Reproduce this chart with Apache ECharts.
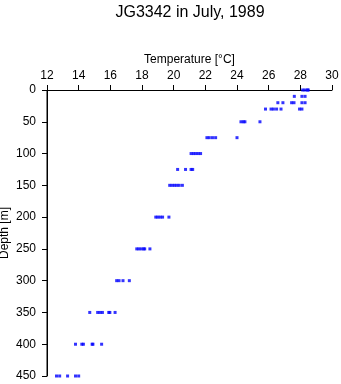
<!DOCTYPE html>
<html>
<head>
<meta charset="utf-8">
<script src="https://cdn.jsdelivr.net/npm/echarts@6/dist/echarts.min.js"></script>
<style>html,body{margin:0;padding:0;background:#fff;}#c{width:341px;height:384px;}</style>
</head>
<body>
<div id="c"></div>
<script>
var titleText = 'JG3342 in July, 1989';
var xName = 'Temperature [°C]';
var yName = 'Depth [m]';
var xMin = 12, xMax = 30, xStep = 2;
var yMin = 0, yMax = 450, yStep = 50;
var depths = [0, 10, 20, 30, 50, 75, 100, 125, 150, 200, 250, 300, 350, 400, 450];
var temps = [
  [28.15, 28.3, 28.45, 28.5],
  [27.62, 28.1, 28.3],
  [26.58, 26.9, 27.45, 27.6, 28.1, 28.3],
  [25.8, 26.15, 26.3, 26.5, 26.78, 27.95, 28.1],
  [24.25, 24.4, 24.5, 25.45],
  [22.1, 22.25, 22.45, 22.65, 24.0],
  [21.1, 21.25, 21.4, 21.55, 21.7],
  [20.25, 20.75, 21.1, 21.2],
  [19.75, 19.9, 20.05, 20.2, 20.35, 20.55],
  [18.87, 19.0, 19.15, 19.3, 19.7],
  [17.67, 17.8, 17.95, 18.1, 18.17, 18.5],
  [16.4, 16.55, 16.8, 17.2],
  [14.7, 15.2, 15.35, 15.5, 15.9, 15.97, 16.3],
  [13.8, 14.2, 14.3, 14.85, 14.9, 15.45],
  [12.6, 12.8, 13.3, 13.8, 14.0]
];
var points = [];
depths.forEach(function (d, i) {
  temps[i].forEach(function (t) { points.push([t, d]); });
});
var font = 'Liberation Sans, Arial, sans-serif';
var chart = echarts.init(document.getElementById('c'));
chart.setOption({
  animation: false,
  backgroundColor: '#fff',
  title: {
    text: titleText, left: 185, top: 0, textAlign: 'center',
    textStyle: {fontFamily: font, fontSize: 16, fontWeight: 'normal', color: '#000'}
  },
  grid: {left: 47, right: 9, top: 90, bottom: 8, containLabel: false, outerBoundsMode: 'none'},
  xAxis: {
    type: 'value', position: 'top', min: xMin, max: xMax, interval: xStep,
    name: xName, nameLocation: 'middle', nameGap: 24, nameMoveOverlap: false,
    nameTextStyle: {fontFamily: font, fontSize: 12, color: '#000'},
    axisLine: {onZero: false, lineStyle: {color: '#000', width: 1}},
    axisTick: {length: 5, lineStyle: {color: '#000'}},
    axisLabel: {fontFamily: font, fontSize: 12, color: '#000', margin: 8},
    splitLine: {show: false}
  },
  yAxis: {
    type: 'value', position: 'left', inverse: true, min: yMin, max: yMax, interval: yStep,
    name: yName, nameLocation: 'middle', nameGap: 36, nameMoveOverlap: false,
    nameTextStyle: {fontFamily: font, fontSize: 12, color: '#000'},
    axisLine: {show: true, onZero: false, lineStyle: {color: '#000', width: 1}},
    axisTick: {show: true, length: 5, lineStyle: {color: '#000'}},
    axisLabel: {fontFamily: font, fontSize: 12, color: '#000', margin: 11},
    splitLine: {show: false}
  },
  series: [{
    type: 'line', data: [[xMin, yMin], [xMin, yMax]], symbol: 'none', silent: true,
    clip: false, z: 5,
    lineStyle: {color: '#000', width: 1}
  }, {
    type: 'scatter', data: points, symbol: 'rect', symbolSize: [3, 3], z: 6,
    itemStyle: {color: '#0000ff'}
  }]
});
</script>
</body>
</html>
